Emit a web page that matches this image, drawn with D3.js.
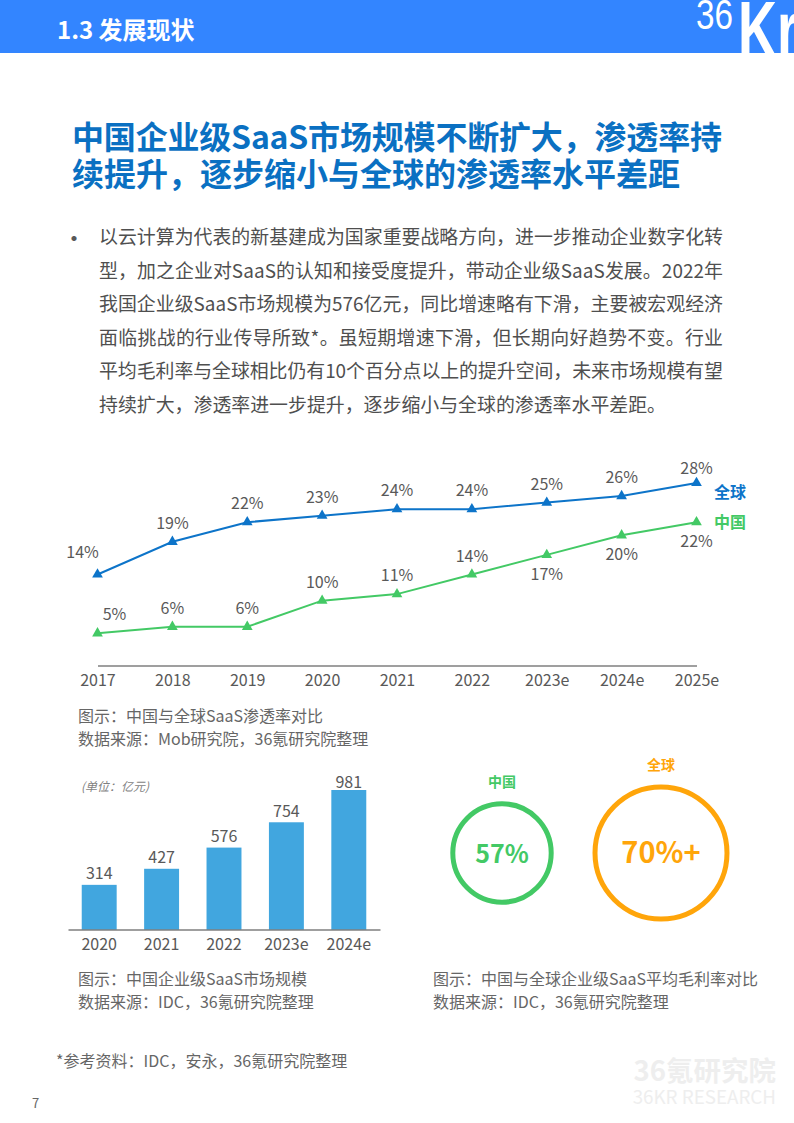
<!DOCTYPE html>
<html lang="zh">
<head>
<meta charset="utf-8">
<title>1.3 发展现状</title>
<script src="https://d3js.org/d3.v7.min.js"></script>
<style>
  html, body { margin: 0; padding: 0; background: #fff; }
  svg { display: block; }
  text { font-family: "Noto Sans CJK SC", "Noto Sans", sans-serif; }
</style>
</head>
<body>
<svg id="page" width="794" height="1123"></svg>
<script>
// line chart data
const years = ["2017","2018","2019","2020","2021","2022","2023e","2024e","2025e"];
const globalRate = [14,19,22,23,24,24,25,26,28];
const chinaRate = [5,6,6,10,11,14,17,20,22];

// bar chart data
const marketYears = ["2020","2021","2022","2023e","2024e"];
const marketSize = [314,427,576,754,981];

// gross margin circles
const marginNames = ["中国","全球"];
const marginValues = [57,70];
const marginLabels = ["57%","70%+"];

// full width comma and colon
const CM = "\uFF0C", CL = "\uFF1A";

const titleLines = [
  "中国企业级SaaS市场规模不断扩大" + CM + "渗透率持",
  "续提升" + CM + "逐步缩小与全球的渗透率水平差距"
];
const bodyLines = [
  "以云计算为代表的新基建成为国家重要战略方向" + CM + "进一步推动企业数字化转",
  "型" + CM + "加之企业对SaaS的认知和接受度提升" + CM + "带动企业级SaaS发展。2022年",
  "我国企业级SaaS市场规模为576亿元" + CM + "同比增速略有下滑" + CM + "主要被宏观经济",
  "面临挑战的行业传导所致*。虽短期增速下滑" + CM + "但长期向好趋势不变。行业",
  "平均毛利率与全球相比仍有10个百分点以上的提升空间" + CM + "未来市场规模有望",
  "持续扩大" + CM + "渗透率进一步提升" + CM + "逐步缩小与全球的渗透率水平差距。"
];

const blue = "#0d74c9", green = "#43c965", orange = "#ffa50a", barBlue = "#41a6df";
const grey = "#595959", capGrey = "#666666";

const svg = d3.select("#page");

function addText(x, y, str, size, fill, opts) {
  opts = opts || {};
  const t = svg.append("text")
    .attr("x", x).attr("y", y)
    .attr("font-size", size)
    .attr("fill", fill)
    .attr("text-anchor", opts.anchor || "start")
    .attr("font-weight", opts.weight || 400)
    .text(str);
  if (opts.style) t.attr("font-style", opts.style);
  if (opts.width) t.attr("textLength", opts.width).attr("lengthAdjust", "spacing");
  return t;
}

// header band
svg.append("clipPath").attr("id", "headClip")
  .append("rect").attr("width", 794).attr("height", 53);
svg.append("rect").attr("width", 794).attr("height", 53).attr("fill", "#3385ff");
addText(57, 39, "1.3 发展现状", 24, "#fff", {weight: 700});

const logo = svg.append("g").attr("clip-path", "url(#headClip)");
logo.append("text").attr("x", 696).attr("y", 29).attr("font-size", 42).attr("fill", "#fff")
  .attr("textLength", 37).attr("lengthAdjust", "spacingAndGlyphs")
  .style("font-family", "'Liberation Sans'").text("36");
logo.append("text").attr("x", 738).attr("y", 57).attr("font-size", 80).attr("fill", "#fff")
  .attr("font-weight", 700)
  .attr("textLength", 60).attr("lengthAdjust", "spacingAndGlyphs")
  .style("font-family", "'Liberation Sans'").text("Kr");

// title and body
titleLines.forEach((s, i) => addText(72, 149 + i * 37, s, 32, "#0a70c2", {weight: 700, width: i == 0 ? 650 : 608}));

addText(62, 247, "•", 24, "#595959");
const bodyWidths = [624, 624, 624, 624, 624, 567];
bodyLines.forEach((s, i) => addText(99, 244 + i * 33.6, s, 18.9, "#4f4f4f", {width: bodyWidths[i]}));

// line chart
const xLine = d3.scalePoint().domain(years).range([97.5, 696.5]);
const yLine = d3.scaleLinear().domain([0, 28]).range([666, 483]);

const lineGen = d3.line().x((d, i) => xLine(years[i])).y(d => yLine(d));
const triangle = d3.symbol().type(d3.symbolTriangle).size(50);

const lineSeries = [
  {name: "全球", values: globalRate, color: blue},
  {name: "中国", values: chinaRate, color: green}
];

// offsets for the labels that sit away from the default spot above the point
const labelDx = {"全球": {0: -15}, "中国": {0: 17}};
const labelDy = {"全球": {0: -17, 8: -9}, "中国": {6: 25, 7: 25, 8: 25}};

lineSeries.forEach(s => {
  svg.append("path").datum(s.values)
    .attr("fill", "none").attr("stroke", s.color).attr("stroke-width", 2)
    .attr("d", lineGen);
  svg.selectAll(null).data(s.values).join("path")
    .attr("d", triangle)
    .attr("fill", s.color)
    .attr("transform", (d, i) => "translate(" + xLine(years[i]) + "," + yLine(d) + ")");
  svg.selectAll(null).data(s.values).join("text")
    .attr("x", (d, i) => xLine(years[i]) + ((labelDx[s.name] || {})[i] || 0))
    .attr("y", (d, i) => yLine(d) + ((labelDy[s.name] || {})[i] || -13))
    .attr("text-anchor", "middle")
    .attr("font-size", 16)
    .attr("fill", grey)
    .text(d => d + "%");
});
addText(714, 498, "全球", 16, blue, {weight: 700});
addText(714, 528, "中国", 16, green, {weight: 700});

const lineAxis = svg.append("g").attr("transform", "translate(0,665.5)")
  .call(d3.axisBottom(xLine).tickSize(0).tickPadding(9));
lineAxis.select(".domain").attr("stroke", "#404040").attr("stroke-width", 1.2);
lineAxis.selectAll("text").attr("font-size", 16).attr("fill", grey)
  .style("font-family", "'Noto Sans CJK SC'");

addText(78, 722, "图示" + CL + "中国与全球SaaS渗透率对比", 16, capGrey);
addText(78, 745, "数据来源" + CL + "Mob研究院" + CM + "36氪研究院整理", 16, capGrey);

// bar chart
const xBar = d3.scaleBand().domain(marketYears).range([68, 380]).paddingInner(0.44).paddingOuter(0.22);
const yBar = d3.scaleLinear().domain([0, 981]).range([929.5, 790]);

svg.selectAll("rect.bar").data(marketSize).join("rect").attr("class", "bar")
  .attr("x", (d, i) => xBar(marketYears[i]))
  .attr("y", d => yBar(d))
  .attr("width", xBar.bandwidth())
  .attr("height", d => yBar(0) - yBar(d))
  .attr("fill", barBlue);

svg.selectAll("text.barLabel").data(marketSize).join("text").attr("class", "barLabel")
  .attr("x", (d, i) => xBar(marketYears[i]) + xBar.bandwidth() / 2)
  .attr("y", (d, i) => yBar(d) - (i == 4 ? 2 : 5.5))
  .attr("text-anchor", "middle")
  .attr("font-size", 16)
  .attr("fill", grey)
  .text(d => d);

const barAxis = svg.append("g").attr("transform", "translate(0,929.5)")
  .call(d3.axisBottom(xBar).tickSize(0).tickPadding(9));
barAxis.select(".domain").attr("stroke", "#404040").attr("stroke-width", 1.2);
barAxis.selectAll("text").attr("font-size", 16).attr("fill", grey)
  .style("font-family", "'Noto Sans CJK SC'");

addText(81, 791, "(单位" + CL + "亿元)", 12, "#7f7f7f", {style: "italic"});
addText(78, 985, "图示" + CL + "中国企业级SaaS市场规模", 16, capGrey);
addText(78, 1008, "数据来源" + CL + "IDC" + CM + "36氪研究院整理", 16, capGrey);

// margin circles, the ring size follows the value
const rMargin = d3.scaleLinear().domain([57, 70]).range([49.2, 66]);
const xMargin = d3.scaleOrdinal().domain(marginNames).range([502, 661]);
const marginColor = d3.scaleOrdinal().domain(marginNames).range([green, orange]);

marginValues.forEach((v, i) => {
  const name = marginNames[i];
  svg.append("circle")
    .attr("cx", xMargin(name)).attr("cy", 853).attr("r", rMargin(v))
    .attr("fill", "none").attr("stroke", marginColor(name)).attr("stroke-width", 5);
  addText(xMargin(name), 853 - rMargin(v) - 17, name, 14, marginColor(name), {anchor: "middle", weight: 700});
  addText(xMargin(name), 863, marginLabels[i], i == 0 ? 25 : 29, marginColor(name), {anchor: "middle", weight: 700});
});

addText(433, 985, "图示" + CL + "中国与全球企业级SaaS平均毛利率对比", 16, capGrey);
addText(433, 1008, "数据来源" + CL + "IDC" + CM + "36氪研究院整理", 16, capGrey);

// footer
addText(56, 1067, "*参考资料" + CL + "IDC" + CM + "安永" + CM + "36氪研究院整理", 16, capGrey);
addText(32, 1108, "7", 13, capGrey);
addText(776, 1081, "36氪研究院", 27.5, "#eeeeee", {anchor: "end", weight: 700});
addText(776, 1104, "36KR RESEARCH", 18.8, "#eeeeee", {anchor: "end"});
</script>
</body>
</html>
